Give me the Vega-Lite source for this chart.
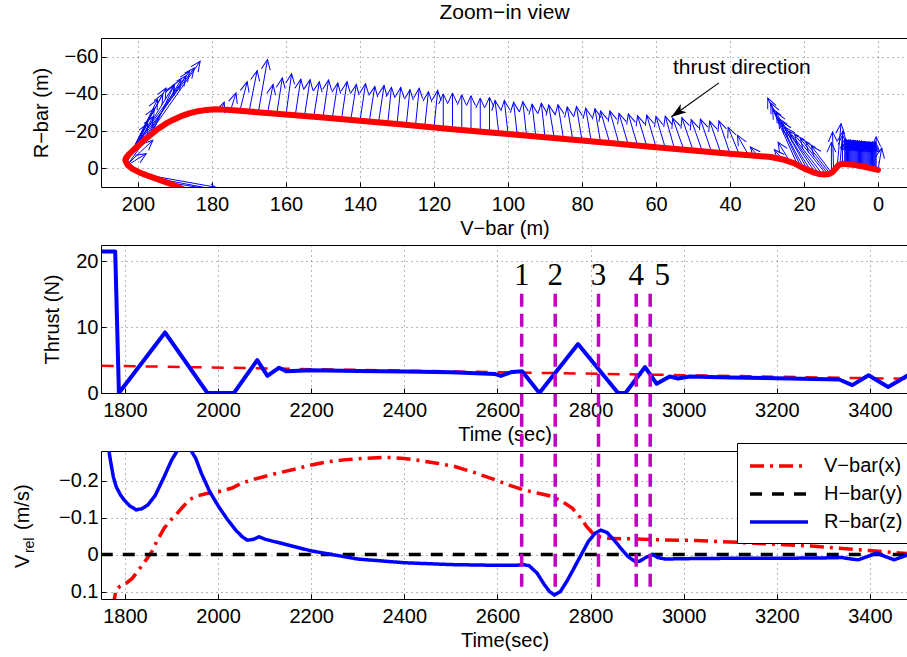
{
"$schema": "https://vega.github.io/schema/vega-lite/v6.json",
"autosize": {"type": "pad"},
"padding": {"left": 12, "top": 1, "right": 0, "bottom": 0},
"bounds": "flush",
"spacing": 58,
"background": "white",
"config": {
  "font": "Liberation Sans",
  "view": {"stroke": "black", "strokeWidth": 1},
  "axis": {
    "labelFont": "Liberation Sans", "labelFontSize": 20, "labelColor": "black",
    "titleFont": "Liberation Sans", "titleFontSize": 20, "titleFontWeight": "normal", "titleColor": "black",
    "domain": false, "tickColor": "black", "tickSize": -5, "tickWidth": 1,
    "grid": true, "gridColor": "black", "gridDash": [1, 4], "gridOpacity": 0.55,
    "labelFlush": false, "labelOverlap": false
  },
  "axisX": {"labelPadding": 12, "titlePadding": 4},
  "axisY": {"labelPadding": 8, "titlePadding": 13}
},
"datasets": {
  "quiver": [
    {"x":177.5,"y":-31.4,"xt":176.7,"yt":-35.5,"a":21},
    {"x":175,"y":-31.1,"xt":173.5,"yt":-40.5,"a":18},
    {"x":172.5,"y":-30.7,"xt":170.5,"yt":-46.5,"a":14},
    {"x":170,"y":-30.3,"xt":167.8,"yt":-52.5,"a":11},
    {"x":167.5,"y":-29.9,"xt":165,"yt":-58.4,"a":10},
    {"x":165,"y":-29.6,"xt":163.5,"yt":-45,"a":11},
    {"x":162.5,"y":-29.2,"xt":161,"yt":-48.5,"a":9},
    {"x":160,"y":-28.8,"xt":158.5,"yt":-50.8,"a":8},
    {"x":157.5,"y":-28.4,"xt":156,"yt":-47.9,"a":9},
    {"x":155,"y":-28.1,"xt":153.5,"yt":-47.6,"a":9},
    {"x":152.5,"y":-27.7,"xt":151,"yt":-46.5,"a":9},
    {"x":150,"y":-27.3,"xt":148.5,"yt":-47.5,"a":8},
    {"x":147.5,"y":-26.8,"xt":146,"yt":-45.8,"a":9},
    {"x":145,"y":-26.4,"xt":143.5,"yt":-46.5,"a":8},
    {"x":142.5,"y":-25.9,"xt":141,"yt":-45,"a":9},
    {"x":140,"y":-25.5,"xt":138.5,"yt":-45.5,"a":8},
    {"x":137.5,"y":-25.1,"xt":136,"yt":-44,"a":9},
    {"x":135,"y":-24.6,"xt":133.5,"yt":-44.5,"a":9},
    {"x":132.5,"y":-24.2,"xt":131.5,"yt":-43.5,"a":6},
    {"x":130,"y":-23.7,"xt":129,"yt":-43.5,"a":6},
    {"x":127.5,"y":-23.3,"xt":126.5,"yt":-42.2,"a":6},
    {"x":125,"y":-22.9,"xt":124,"yt":-43,"a":6},
    {"x":122.5,"y":-22.4,"xt":121.5,"yt":-41.2,"a":6},
    {"x":120,"y":-22.0,"xt":119,"yt":-41.8,"a":6},
    {"x":117.5,"y":-21.5,"xt":117.5,"yt":-40,"a":0},
    {"x":115,"y":-21.1,"xt":115,"yt":-40.5,"a":0},
    {"x":112.5,"y":-20.7,"xt":112.5,"yt":-39.5,"a":0},
    {"x":110,"y":-20.2,"xt":110,"yt":-39,"a":0},
    {"x":107.5,"y":-19.8,"xt":107.5,"yt":-37.7,"a":0},
    {"x":105,"y":-19.3,"xt":105,"yt":-38.2,"a":0},
    {"x":102.5,"y":-18.9,"xt":103.5,"yt":-36.5,"a":-6},
    {"x":100,"y":-18.5,"xt":101,"yt":-36.5,"a":-6},
    {"x":97.5,"y":-18.0,"xt":98.5,"yt":-35.5,"a":-7},
    {"x":95,"y":-17.6,"xt":96,"yt":-35.8,"a":-6},
    {"x":92.5,"y":-17.1,"xt":93.5,"yt":-34.5,"a":-7},
    {"x":90,"y":-16.7,"xt":91,"yt":-35,"a":-6},
    {"x":87.5,"y":-16.3,"xt":89,"yt":-34,"a":-10},
    {"x":85,"y":-15.8,"xt":86.5,"yt":-34.2,"a":-9},
    {"x":82.5,"y":-15.4,"xt":84,"yt":-33,"a":-10},
    {"x":80,"y":-14.9,"xt":81.5,"yt":-33.2,"a":-9},
    {"x":77.5,"y":-14.5,"xt":79,"yt":-32.3,"a":-10},
    {"x":75,"y":-14.1,"xt":76.5,"yt":-32,"a":-10},
    {"x":72.5,"y":-13.6,"xt":75,"yt":-30.8,"a":-16},
    {"x":70,"y":-13.2,"xt":72.5,"yt":-30.8,"a":-16},
    {"x":67.5,"y":-12.7,"xt":70,"yt":-29.5,"a":-17},
    {"x":65,"y":-12.3,"xt":67.5,"yt":-29.3,"a":-16},
    {"x":62.5,"y":-11.9,"xt":65,"yt":-28.3,"a":-17},
    {"x":60,"y":-11.4,"xt":62.5,"yt":-28.6,"a":-16},
    {"x":57.5,"y":-11.0,"xt":60,"yt":-27.9,"a":-16},
    {"x":55,"y":-10.5,"xt":57.5,"yt":-28,"a":-16},
    {"x":52.5,"y":-10.1,"xt":55.5,"yt":-27,"a":-20},
    {"x":50,"y":-9.7,"xt":53,"yt":-27.2,"a":-19},
    {"x":47.5,"y":-9.2,"xt":50.5,"yt":-26.2,"a":-19},
    {"x":45,"y":-8.8,"xt":48,"yt":-26.4,"a":-19},
    {"x":42.5,"y":-8.3,"xt":45.5,"yt":-25.4,"a":-19},
    {"x":40,"y":-7.9,"xt":43,"yt":-25.5,"a":-19},
    {"x":37.5,"y":-7.5,"xt":40.5,"yt":-22,"a":-22},
    {"x":35,"y":-7.1,"xt":38,"yt":-17.8,"a":-29},
    {"x":32.5,"y":-6.7,"xt":34.5,"yt":-11.5,"a":-40},
    {"x":202.6,"y":-2.5,"xt":183.2,"yt":-57.5,"a":35},
    {"x":203.3,"y":-4.5,"xt":184.8,"yt":-53.9,"a":37},
    {"x":202.9,"y":-6.5,"xt":187.0,"yt":-49.7,"a":36},
    {"x":203.0,"y":-3.5,"xt":190.2,"yt":-44.9,"a":32},
    {"x":202.0,"y":-8.0,"xt":192.4,"yt":-43.1,"a":29},
    {"x":202.8,"y":-5.0,"xt":193.3,"yt":-40.0,"a":28},
    {"x":201.7,"y":-9.0,"xt":194.7,"yt":-37.1,"a":27},
    {"x":202.2,"y":-7.0,"xt":195.6,"yt":-32.3,"a":28},
    {"x":200.3,"y":-11.5,"xt":196.0,"yt":-27.7,"a":28},
    {"x":201.0,"y":-10.0,"xt":197.4,"yt":-24.2,"a":27},
    {"x":202.4,"y":-3.0,"xt":196.0,"yt":-15.1,"a":47},
    {"x":202.6,"y":-2.0,"xt":197.8,"yt":-7.9,"a":58},
    {"x":199.2,"y":-13.5,"xt":186.1,"yt":-52.1,"a":34},
    {"x":197.8,"y":-16.0,"xt":188.4,"yt":-47.6,"a":31},
    {"x":196.3,"y":-18.5,"xt":190.2,"yt":-44.9,"a":25},
    {"x":199,"y":3,"xt":168,"yt":14,"a":100},
    {"x":196,"y":5,"xt":172,"yt":14,"a":100},
    {"x":192,"y":7.5,"xt":178,"yt":12,"a":105},
    {"x":22,"y":-3,"xt":29.8,"yt":-37.7,"a":-24},
    {"x":21,"y":-1.5,"xt":29.0,"yt":-35,"a":-26},
    {"x":20,"y":0,"xt":28.5,"yt":-32,"a":-28},
    {"x":19,"y":1,"xt":27.5,"yt":-30,"a":-29},
    {"x":18,"y":1.8,"xt":27,"yt":-27,"a":-32},
    {"x":17,"y":2.3,"xt":26,"yt":-25,"a":-33},
    {"x":16,"y":2.8,"xt":25,"yt":-22,"a":-36},
    {"x":15,"y":3.2,"xt":24,"yt":-20,"a":-38},
    {"x":14,"y":3.2,"xt":22.5,"yt":-18,"a":-39},
    {"x":13.5,"y":3.0,"xt":21,"yt":-16,"a":-38},
    {"x":13,"y":2.8,"xt":19.5,"yt":-14,"a":-38},
    {"x":12.5,"y":2.5,"xt":18,"yt":-12,"a":-37},
    {"x":24,"y":-4.3,"xt":27,"yt":-14,"a":-32},
    {"x":26,"y":-5.2,"xt":28,"yt":-10,"a":-40},
    {"x":11,"y":-1.6,"xt":10,"yt":-24,"a":5},
    {"x":10.3,"y":-2.2,"xt":9.5,"yt":-20,"a":5},
    {"x":12,"y":2,"xt":12.3,"yt":-19.6,"a":-2},
    {"x":12.6,"y":2.4,"xt":12.6,"yt":-14,"a":0},
    {"x":9.6,"y":-2.4,"xt":9.6,"yt":-18,"a":0},
    {"x":9,"y":-2.3,"xt":9,"yt":-16,"a":0},
    {"x":8.75,"y":-2.2,"xt":8.75,"yt":-15.2,"a":0},
    {"x":8.5,"y":-2.1,"xt":8.5,"yt":-15.6,"a":0},
    {"x":8.25,"y":-2.0,"xt":8.25,"yt":-15.1,"a":0},
    {"x":8,"y":-1.9,"xt":8,"yt":-15.4,"a":0},
    {"x":7.75,"y":-1.85,"xt":7.75,"yt":-15.0,"a":0},
    {"x":7.5,"y":-1.8,"xt":7.5,"yt":-15.5,"a":0},
    {"x":7.25,"y":-1.7,"xt":7.25,"yt":-15.0,"a":0},
    {"x":7,"y":-1.6,"xt":7,"yt":-15.2,"a":0},
    {"x":6.75,"y":-1.5,"xt":6.75,"yt":-14.9,"a":0},
    {"x":6.5,"y":-1.4,"xt":6.5,"yt":-15.3,"a":0},
    {"x":6.25,"y":-1.3,"xt":6.25,"yt":-14.8,"a":0},
    {"x":6,"y":-1.2,"xt":6,"yt":-15.0,"a":0},
    {"x":5.75,"y":-1.1,"xt":5.75,"yt":-14.7,"a":0},
    {"x":5.5,"y":-1.0,"xt":5.5,"yt":-15.1,"a":0},
    {"x":5.25,"y":-0.9,"xt":5.25,"yt":-14.6,"a":0},
    {"x":5,"y":-0.8,"xt":5,"yt":-14.8,"a":0},
    {"x":4.75,"y":-0.75,"xt":4.75,"yt":-14.5,"a":0},
    {"x":4.5,"y":-0.7,"xt":4.5,"yt":-14.9,"a":0},
    {"x":4.25,"y":-0.6,"xt":4.25,"yt":-14.4,"a":0},
    {"x":4,"y":-0.5,"xt":4,"yt":-14.6,"a":0},
    {"x":3.75,"y":-0.4,"xt":3.75,"yt":-14.3,"a":0},
    {"x":3.5,"y":-0.3,"xt":3.5,"yt":-14.7,"a":0},
    {"x":3.25,"y":-0.2,"xt":3.25,"yt":-14.2,"a":0},
    {"x":3,"y":-0.1,"xt":3,"yt":-14.4,"a":0},
    {"x":2.75,"y":0.0,"xt":2.75,"yt":-14.1,"a":0},
    {"x":2.5,"y":0.1,"xt":2.5,"yt":-14.5,"a":0},
    {"x":2.25,"y":0.2,"xt":2.25,"yt":-14.0,"a":0},
    {"x":2,"y":0.3,"xt":2,"yt":-14.3,"a":0},
    {"x":1.75,"y":0.35,"xt":1.75,"yt":-14.0,"a":0},
    {"x":1.5,"y":0.4,"xt":1.5,"yt":-14.4,"a":0},
    {"x":1.25,"y":0.5,"xt":1.25,"yt":-14.0,"a":0},
    {"x":1,"y":0.6,"xt":1,"yt":-14.2,"a":0},
    {"x":0.75,"y":0.7,"xt":0.75,"yt":-14.5,"a":0},
    {"x":0.5,"y":0.8,"xt":0.5,"yt":-17,"a":0},
    {"x":0,"y":0.9,"xt":-1,"yt":-11,"a":10}
  ],
  "traj": [
    {"i":1,"x":187,"y":12},{"i":2,"x":190.5,"y":8.8},{"i":3,"x":194,"y":6.3},{"i":4,"x":197,"y":4.2},
    {"i":5,"x":199.5,"y":2.3},{"i":6,"x":201.5,"y":0.3},{"i":7,"x":202.8,"y":-1.8},{"i":8,"x":203.4,"y":-4},
    {"i":9,"x":203.3,"y":-5.5},{"i":10,"x":202.6,"y":-7.2},{"i":11,"x":201.2,"y":-10},{"i":12,"x":199.5,"y":-13},
    {"i":13,"x":197.8,"y":-16},{"i":14,"x":196,"y":-19},{"i":15,"x":194.3,"y":-21.6},{"i":16,"x":192.5,"y":-24},
    {"i":17,"x":190.6,"y":-26},{"i":18,"x":188.5,"y":-27.9},{"i":19,"x":186.2,"y":-29.5},{"i":20,"x":183.8,"y":-30.7},
    {"i":21,"x":181.5,"y":-31.4},{"i":22,"x":179,"y":-31.7},{"i":23,"x":176,"y":-31.5},{"i":24,"x":170,"y":-30.5},
    {"i":25,"x":160,"y":-28.9},{"i":26,"x":150,"y":-27.3},{"i":27,"x":130,"y":-23.8},{"i":28,"x":115,"y":-21.0},
    {"i":29,"x":100,"y":-18.5},{"i":30,"x":80,"y":-15.0},{"i":31,"x":60,"y":-11.4},{"i":32,"x":40,"y":-7.9},
    {"i":33,"x":34,"y":-6.9},{"i":34,"x":29,"y":-6.1},{"i":35,"x":25.3,"y":-4.6},{"i":36,"x":22.5,"y":-2.6},
    {"i":37,"x":20,"y":0},{"i":38,"x":17.5,"y":2.1},{"i":39,"x":16,"y":3.0},{"i":40,"x":14.5,"y":3.3},
    {"i":41,"x":13.2,"y":3.0},{"i":42,"x":12.3,"y":2.0},{"i":43,"x":11.5,"y":0.2},{"i":44,"x":10.7,"y":-1.7},
    {"i":45,"x":9.5,"y":-2.5},{"i":46,"x":7,"y":-2.0},{"i":47,"x":4,"y":-1.0},{"i":48,"x":1,"y":0.4},{"i":49,"x":0,"y":0.8}
  ],
  "ann": [{"x":43,"y":-45.9,"xt":55.9,"yt":-27.6,"a":235,"label":"thrust direction"}],
  "thrust": [
    {"t":1750,"f":21.5},{"t":1779,"f":21.5},{"t":1787,"f":0},{"t":1886,"f":9.2},{"t":1977,"f":0},{"t":2034,"f":0},
    {"t":2084,"f":5.0},{"t":2106,"f":2.6},{"t":2131,"f":3.85},{"t":2146,"f":3.3},{"t":2200,"f":3.45},{"t":2300,"f":3.35},
    {"t":2400,"f":3.25},{"t":2500,"f":3.15},{"t":2594,"f":2.9},{"t":2607,"f":2.6},{"t":2631,"f":3.2},{"t":2653,"f":3.3},
    {"t":2690,"f":0},{"t":2773,"f":7.45},{"t":2859,"f":0},{"t":2875,"f":0},{"t":2917,"f":3.95},{"t":2942,"f":1.4},
    {"t":2970,"f":2.5},{"t":2988,"f":2.2},{"t":3013,"f":2.5},{"t":3100,"f":2.35},{"t":3200,"f":2.25},{"t":3334,"f":2.05},
    {"t":3362,"f":1.2},{"t":3397,"f":2.7},{"t":3439,"f":0.9},{"t":3482,"f":2.7}
  ],
  "trend": [{"t":1750,"f":4.15},{"t":3482,"f":2.15}],
  "events": [{"t":2652,"lab":"1"},{"t":2724,"lab":"2"},{"t":2817,"lab":"3"},{"t":2898,"lab":"4"},{"t":2928,"lab":"5"}],
  "vrel": [
    {"s":"V−bar(x)","t":1772,"v":0.14},{"s":"V−bar(x)","t":1777,"v":0.121},{"s":"V−bar(x)","t":1781,"v":0.094},
    {"s":"V−bar(x)","t":1790,"v":0.085},{"s":"V−bar(x)","t":1802,"v":0.078},{"s":"V−bar(x)","t":1815,"v":0.065},
    {"s":"V−bar(x)","t":1827,"v":0.046},{"s":"V−bar(x)","t":1842,"v":0.02},{"s":"V−bar(x)","t":1856,"v":-0.004},
    {"s":"V−bar(x)","t":1870,"v":-0.04},{"s":"V−bar(x)","t":1884,"v":-0.071},{"s":"V−bar(x)","t":1897,"v":-0.092},
    {"s":"V−bar(x)","t":1909,"v":-0.107},{"s":"V−bar(x)","t":1925,"v":-0.13},{"s":"V−bar(x)","t":1938,"v":-0.148},
    {"s":"V−bar(x)","t":1951,"v":-0.157},{"s":"V−bar(x)","t":1975,"v":-0.165},{"s":"V−bar(x)","t":2001,"v":-0.17},
    {"s":"V−bar(x)","t":2030,"v":-0.18},{"s":"V−bar(x)","t":2050,"v":-0.193},{"s":"V−bar(x)","t":2075,"v":-0.203},
    {"s":"V−bar(x)","t":2120,"v":-0.218},{"s":"V−bar(x)","t":2162,"v":-0.23},{"s":"V−bar(x)","t":2200,"v":-0.242},
    {"s":"V−bar(x)","t":2236,"v":-0.251},{"s":"V−bar(x)","t":2270,"v":-0.256},{"s":"V−bar(x)","t":2310,"v":-0.26},
    {"s":"V−bar(x)","t":2360,"v":-0.263},{"s":"V−bar(x)","t":2400,"v":-0.26},{"s":"V−bar(x)","t":2434,"v":-0.254},
    {"s":"V−bar(x)","t":2470,"v":-0.247},{"s":"V−bar(x)","t":2508,"v":-0.238},{"s":"V−bar(x)","t":2550,"v":-0.222},
    {"s":"V−bar(x)","t":2595,"v":-0.202},{"s":"V−bar(x)","t":2625,"v":-0.188},{"s":"V−bar(x)","t":2656,"v":-0.175},
    {"s":"V−bar(x)","t":2690,"v":-0.165},{"s":"V−bar(x)","t":2718,"v":-0.157},{"s":"V−bar(x)","t":2740,"v":-0.143},
    {"s":"V−bar(x)","t":2761,"v":-0.125},{"s":"V−bar(x)","t":2778,"v":-0.1},{"s":"V−bar(x)","t":2792,"v":-0.075},
    {"s":"V−bar(x)","t":2805,"v":-0.057},{"s":"V−bar(x)","t":2820,"v":-0.048},{"s":"V−bar(x)","t":2835,"v":-0.044},
    {"s":"V−bar(x)","t":2870,"v":-0.043},{"s":"V−bar(x)","t":2900,"v":-0.042},{"s":"V−bar(x)","t":2950,"v":-0.04},
    {"s":"V−bar(x)","t":3027,"v":-0.038},{"s":"V−bar(x)","t":3151,"v":-0.031},{"s":"V−bar(x)","t":3274,"v":-0.023},
    {"s":"V−bar(x)","t":3397,"v":-0.011},{"s":"V−bar(x)","t":3482,"v":-0.003},
    {"s":"H−bar(y)","t":1748,"v":0},{"s":"H−bar(y)","t":3482,"v":0},
    {"s":"R−bar(z)","t":1760,"v":-0.33},{"s":"R−bar(z)","t":1768,"v":-0.26},{"s":"R−bar(z)","t":1775,"v":-0.21},
    {"s":"R−bar(z)","t":1781,"v":-0.184},{"s":"R−bar(z)","t":1790,"v":-0.162},{"s":"R−bar(z)","t":1798,"v":-0.148},
    {"s":"R−bar(z)","t":1810,"v":-0.132},{"s":"R−bar(z)","t":1824,"v":-0.121},{"s":"R−bar(z)","t":1836,"v":-0.124},
    {"s":"R−bar(z)","t":1849,"v":-0.134},{"s":"R−bar(z)","t":1865,"v":-0.16},{"s":"R−bar(z)","t":1884,"v":-0.21},
    {"s":"R−bar(z)","t":1900,"v":-0.255},{"s":"R−bar(z)","t":1912,"v":-0.28},{"s":"R−bar(z)","t":1925,"v":-0.292},
    {"s":"R−bar(z)","t":1940,"v":-0.285},{"s":"R−bar(z)","t":1952,"v":-0.26},{"s":"R−bar(z)","t":1964,"v":-0.22},
    {"s":"R−bar(z)","t":1982,"v":-0.17},{"s":"R−bar(z)","t":2001,"v":-0.13},{"s":"R−bar(z)","t":2020,"v":-0.095},
    {"s":"R−bar(z)","t":2038,"v":-0.066},{"s":"R−bar(z)","t":2052,"v":-0.048},{"s":"R−bar(z)","t":2063,"v":-0.039},
    {"s":"R−bar(z)","t":2075,"v":-0.041},{"s":"R−bar(z)","t":2088,"v":-0.048},{"s":"R−bar(z)","t":2100,"v":-0.042},
    {"s":"R−bar(z)","t":2112,"v":-0.038},{"s":"R−bar(z)","t":2150,"v":-0.026},{"s":"R−bar(z)","t":2200,"v":-0.01},
    {"s":"R−bar(z)","t":2300,"v":0.012},{"s":"R−bar(z)","t":2400,"v":0.022},{"s":"R−bar(z)","t":2500,"v":0.027},
    {"s":"R−bar(z)","t":2600,"v":0.029},{"s":"R−bar(z)","t":2640,"v":0.029},{"s":"R−bar(z)","t":2655,"v":0.027},
    {"s":"R−bar(z)","t":2668,"v":0.03},{"s":"R−bar(z)","t":2685,"v":0.05},{"s":"R−bar(z)","t":2700,"v":0.08},
    {"s":"R−bar(z)","t":2712,"v":0.1},{"s":"R−bar(z)","t":2722,"v":0.109},{"s":"R−bar(z)","t":2735,"v":0.1},
    {"s":"R−bar(z)","t":2750,"v":0.07},{"s":"R−bar(z)","t":2765,"v":0.035},{"s":"R−bar(z)","t":2780,"v":0.0},
    {"s":"R−bar(z)","t":2795,"v":-0.035},{"s":"R−bar(z)","t":2810,"v":-0.058},{"s":"R−bar(z)","t":2822,"v":-0.066},
    {"s":"R−bar(z)","t":2835,"v":-0.06},{"s":"R−bar(z)","t":2850,"v":-0.04},{"s":"R−bar(z)","t":2865,"v":-0.017},
    {"s":"R−bar(z)","t":2880,"v":0.005},{"s":"R−bar(z)","t":2896,"v":0.019},{"s":"R−bar(z)","t":2905,"v":0.018},
    {"s":"R−bar(z)","t":2918,"v":0.008},{"s":"R−bar(z)","t":2933,"v":0.0},{"s":"R−bar(z)","t":2945,"v":0.008},
    {"s":"R−bar(z)","t":2960,"v":0.012},{"s":"R−bar(z)","t":3000,"v":0.011},{"s":"R−bar(z)","t":3100,"v":0.01},
    {"s":"R−bar(z)","t":3200,"v":0.01},{"s":"R−bar(z)","t":3300,"v":0.009},{"s":"R−bar(z)","t":3340,"v":0.008},
    {"s":"R−bar(z)","t":3360,"v":0.012},{"s":"R−bar(z)","t":3375,"v":0.014},{"s":"R−bar(z)","t":3395,"v":0.005},
    {"s":"R−bar(z)","t":3415,"v":-0.004},{"s":"R−bar(z)","t":3430,"v":0.004},{"s":"R−bar(z)","t":3452,"v":0.014},
    {"s":"R−bar(z)","t":3470,"v":0.006},{"s":"R−bar(z)","t":3482,"v":0.0}
  ]
},
"vconcat": [
  {
    "width": 807, "height": 149,
    "title": {"text": "Zoom−in view", "fontSize": 21, "fontWeight": "normal", "font": "Liberation Sans", "color": "black", "baseline": "alphabetic", "offset": -2, "frame": "group"},
    "layer": [
      {
        "data": {"name": "quiver"},
        "mark": {"type": "rule", "color": "#0000ff", "strokeWidth": 1, "clip": true},
        "encoding": {
          "x": {"field": "x", "type": "quantitative", "title": "V−bar (m)", "scale": {"domain": [-8.1, 210], "reverse": true, "nice": false, "zero": false}, "axis": {"values": [200,180,160,140,120,100,80,60,40,20,0]}},
          "y": {"field": "y", "type": "quantitative", "title": "R−bar (m)", "scale": {"domain": [-70, 10], "reverse": true, "nice": false, "zero": false}, "axis": {"values": [-60,-40,-20,0]}},
          "x2": {"field": "xt"},
          "y2": {"field": "yt"}
        }
      },
      {
        "data": {"name": "quiver"},
        "mark": {"type": "point", "shape": "M-0.45,1L0,0L0.45,1", "filled": false, "stroke": "#0000ff", "strokeWidth": 1, "size": 400, "opacity": 1, "clip": true},
        "encoding": {
          "x": {"field": "xt", "type": "quantitative", "title": "V−bar (m)", "scale": {"domain": [-8.1, 210], "reverse": true, "nice": false, "zero": false}},
          "y": {"field": "yt", "type": "quantitative", "title": "R−bar (m)", "scale": {"domain": [-70, 10], "reverse": true, "nice": false, "zero": false}},
          "angle": {"field": "a", "type": "quantitative", "scale": null}
        }
      },
      {
        "data": {"name": "traj"},
        "mark": {"type": "line", "color": "#ff0000", "strokeWidth": 6, "strokeCap": "round", "strokeJoin": "round", "clip": true},
        "encoding": {
          "x": {"field": "x", "type": "quantitative", "title": "V−bar (m)", "scale": {"domain": [-8.1, 210], "reverse": true, "nice": false, "zero": false}},
          "y": {"field": "y", "type": "quantitative", "title": "R−bar (m)", "scale": {"domain": [-70, 10], "reverse": true, "nice": false, "zero": false}},
          "order": {"field": "i", "type": "quantitative"}
        }
      },
      {
        "data": {"name": "ann"},
        "mark": {"type": "rule", "color": "black", "strokeWidth": 1.2},
        "encoding": {
          "x": {"field": "x", "type": "quantitative", "title": "V−bar (m)"},
          "y": {"field": "y", "type": "quantitative", "title": "R−bar (m)"},
          "x2": {"field": "xt"},
          "y2": {"field": "yt"}
        }
      },
      {
        "data": {"name": "ann"},
        "mark": {"type": "point", "shape": "M0,0L0.5,1.5L0,1.1L-0.5,1.5Z", "filled": true, "color": "black", "size": 420, "opacity": 1},
        "encoding": {
          "x": {"field": "xt", "type": "quantitative", "title": "V−bar (m)"},
          "y": {"field": "yt", "type": "quantitative", "title": "R−bar (m)"},
          "angle": {"field": "a", "type": "quantitative", "scale": null}
        }
      },
      {
        "data": {"name": "ann"},
        "mark": {"type": "text", "fontSize": 21, "font": "Liberation Sans", "color": "black", "align": "center", "baseline": "alphabetic"},
        "encoding": {
          "x": {"datum": 36.8, "type": "quantitative"},
          "y": {"datum": -50.8, "type": "quantitative"},
          "text": {"field": "label"}
        }
      }
    ]
  },
  {
    "width": 807, "height": 148,
    "layer": [
      {
        "data": {"name": "trend"},
        "mark": {"type": "line", "color": "#ff0000", "strokeWidth": 2.5, "strokeDash": [12, 10], "clip": true},
        "encoding": {
          "x": {"field": "t", "type": "quantitative", "title": "Time (sec)", "scale": {"domain": [1748.5, 3481.7], "nice": false, "zero": false}, "axis": {"values": [1800,2000,2200,2400,2600,2800,3000,3200,3400], "format": "d"}},
          "y": {"field": "f", "type": "quantitative", "title": "Thrust (N)", "scale": {"domain": [0, 22.5], "nice": false, "zero": false}, "axis": {"values": [0,10,20]}}
        }
      },
      {
        "data": {"name": "thrust"},
        "mark": {"type": "line", "color": "#0000ff", "strokeWidth": 4, "strokeJoin": "round", "clip": true},
        "encoding": {
          "x": {"field": "t", "type": "quantitative", "title": "Time (sec)", "scale": {"domain": [1748.5, 3481.7], "nice": false, "zero": false}},
          "y": {"field": "f", "type": "quantitative", "title": "Thrust (N)", "scale": {"domain": [0, 22.5], "nice": false, "zero": false}}
        }
      },
      {
        "data": {"name": "events"},
        "transform": [{"filter": "datum.lab != '5'"}],
        "mark": {"type": "text", "font": "Liberation Serif", "fontSize": 31, "color": "black", "align": "center", "baseline": "alphabetic"},
        "encoding": {
          "x": {"field": "t", "type": "quantitative", "title": "Time (sec)"},
          "y": {"datum": 16.4, "type": "quantitative"},
          "text": {"field": "lab"}
        }
      },
      {
        "data": {"name": "events"},
        "transform": [{"filter": "datum.lab == '5'"}],
        "mark": {"type": "text", "font": "Liberation Serif", "fontSize": 31, "color": "black", "align": "center", "baseline": "alphabetic", "dx": 12},
        "encoding": {
          "x": {"field": "t", "type": "quantitative", "title": "Time (sec)"},
          "y": {"datum": 16.4, "type": "quantitative"},
          "text": {"field": "lab"}
        }
      }
    ]
  },
  {
    "width": 807, "height": 148,
    "layer": [
      {
        "data": {"name": "vrel"},
        "mark": {"type": "line", "strokeWidth": 3.5, "clip": true},
        "encoding": {
          "x": {"field": "t", "type": "quantitative", "title": "Time(sec)", "scale": {"domain": [1748.5, 3481.7], "nice": false, "zero": false}, "axis": {"values": [1800,2000,2200,2400,2600,2800,3000,3200,3400], "format": "d"}},
          "y": {"field": "v", "type": "quantitative", "title": null, "scale": {"domain": [-0.28, 0.12], "reverse": true, "nice": false, "zero": false}, "axis": {"values": [-0.2,-0.1,0,0.1], "format": ".1~f", "title": null}},
          "color": {"field": "s", "type": "nominal", "scale": {"domain": ["V−bar(x)","H−bar(y)","R−bar(z)"], "range": ["#ff0000","#000000","#0000ff"]},
            "legend": {"orient": "none", "legendX": 636, "legendY": 405, "title": null, "symbolType": "M-1,0L4.8,0", "symbolSize": 400, "symbolStrokeWidth": 3.5, "labelFontSize": 20, "labelFont": "Liberation Sans", "labelColor": "black", "strokeColor": "black", "fillColor": "white", "padding": 11, "rowPadding": 6, "labelOffset": 52}},
          "strokeDash": {"field": "s", "type": "nominal", "scale": {"domain": ["V−bar(x)","H−bar(y)","R−bar(z)"], "range": [[14,6,3,6],[12,10],[1,0]]},
            "legend": {"orient": "none", "legendX": 636, "legendY": 405, "title": null, "symbolType": "M-1,0L4.8,0", "symbolSize": 400, "symbolStrokeWidth": 3.5, "labelFontSize": 20, "labelFont": "Liberation Sans", "labelColor": "black", "strokeColor": "black", "fillColor": "white", "padding": 11, "rowPadding": 6, "labelOffset": 52}}
        }
      },
      {
        "data": {"name": "events"},
        "mark": {"type": "rule", "color": "#c000c0", "strokeWidth": 3.5, "strokeDash": [13, 7]},
        "encoding": {
          "x": {"field": "t", "type": "quantitative", "title": "Time(sec)"},
          "y": {"datum": -0.705, "type": "quantitative"},
          "y2": {"datum": 0.09}
        }
      },
      {
        "data": {"values": [{"txt": "V"}]},
        "mark": {"type": "text", "angle": 270, "align": "left", "baseline": "alphabetic", "fontSize": 20, "font": "Liberation Sans", "color": "black"},
        "encoding": {
          "x": {"datum": 1593.8, "type": "quantitative"},
          "y": {"datum": 0.036, "type": "quantitative"},
          "text": {"field": "txt"}
        }
      },
      {
        "data": {"values": [{"txt": "rel"}]},
        "mark": {"type": "text", "angle": 270, "align": "left", "baseline": "alphabetic", "fontSize": 14, "font": "Liberation Sans", "color": "black"},
        "encoding": {
          "x": {"datum": 1604.6, "type": "quantitative"},
          "y": {"datum": -0.004, "type": "quantitative"},
          "text": {"field": "txt"}
        }
      },
      {
        "data": {"values": [{"txt": "(m/s)"}]},
        "mark": {"type": "text", "angle": 270, "align": "left", "baseline": "alphabetic", "fontSize": 20, "font": "Liberation Sans", "color": "black"},
        "encoding": {
          "x": {"datum": 1593.8, "type": "quantitative"},
          "y": {"datum": -0.0665, "type": "quantitative"},
          "text": {"field": "txt"}
        }
      }
    ]
  }
]
}
